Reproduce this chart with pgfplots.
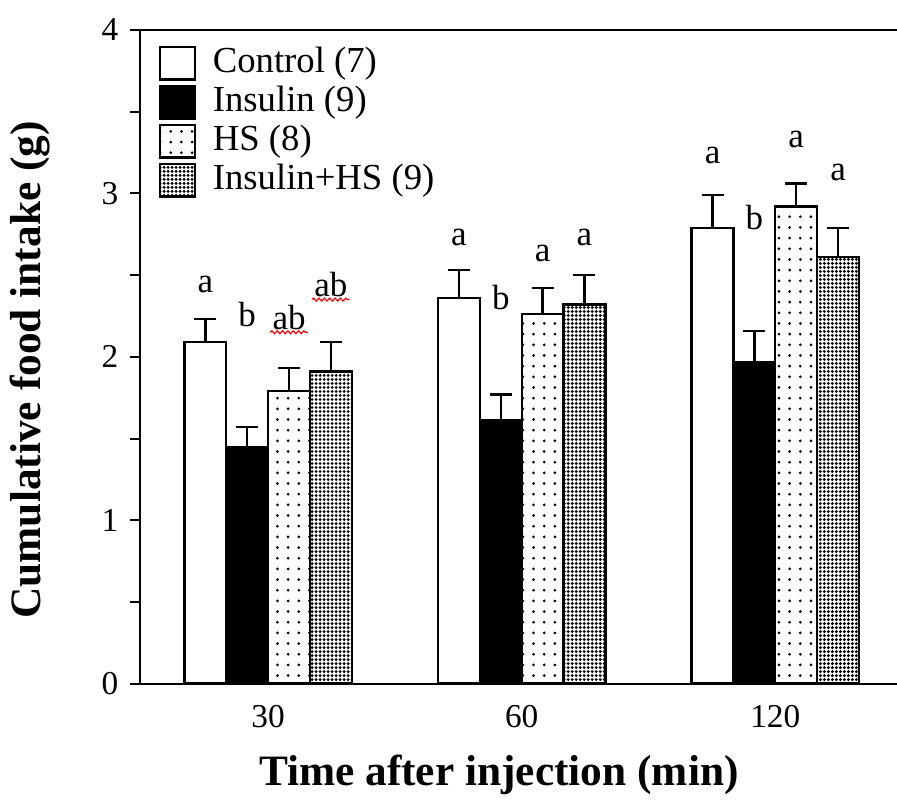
\documentclass[border=0pt]{standalone}
\usepackage{fontspec}
\setmainfont{Liberation Serif}
\usepackage{pgfplots}
\usepackage{pgfplotstable}
\pgfplotsset{compat=1.18}
\usetikzlibrary{patterns.meta, decorations.pathmorphing}

% cumulative food intake (g) at 30, 60, 120 min, mean and upper SEM
\pgfplotstableread{
x ctrl ctrlerr ins inserr hs hserr ihs ihserr
0 2.09 0.14 1.45 0.12 1.79 0.14 1.91 0.18
1 2.36 0.17 1.61 0.16 2.26 0.16 2.32 0.18
2 2.79 0.20 1.97 0.19 2.92 0.14 2.61 0.18
}\foodtable

\tikzset{
  barline/.style={draw=black, line width=0.7pt},
  hsfill/.style={pattern={Dots[distance=3.2pt, radius=0.45pt]}, pattern color=black},
  ihsfill/.style={pattern={Dots[distance=1.2pt, radius=0.48pt]}, pattern color=black},
}

\begin{document}
\begin{tikzpicture}
  \begin{axis}[
      scale only axis,
      width=227pt, height=196pt,
      xmin=-0.505, xmax=2.48,
      ymin=0, ymax=4,
      axis x line=box, axis y line=left,
      axis line style={-, line width=0.6pt},
      xtick={0,1,2}, xticklabels={30,60,120},
      major x tick style={draw=none},
      ytick={0,1,2,3,4},
      minor ytick={0.5,1.5,2.5,3.5},
      ytick pos=left,
      tick align=outside,
      major tick length=3pt, minor tick length=3pt,
      every tick/.style={black, line width=0.6pt},
      /pgf/number format/assume math mode=true,
      tick label style={font=\fontsize{10}{12}\selectfont},
      xlabel={\textbf{Time after injection (min)}},
      ylabel={\textbf{Cumulative food intake (g)}},
      label style={font=\fontsize{13}{15}\selectfont},
      xlabel style={at={(axis description cs:0.474,-0.139)}, anchor=center},
      ylabel style={at={(axis description cs:-0.145,0.48)}, anchor=center},
      ybar, bar width=0.165,
      error bars/y dir=plus, error bars/y explicit,
      error bars/error mark=-,
      error bars/error mark options={black, line width=0.7pt, mark size=3.3pt, rotate=90},
      error bars/error bar style={black, line width=0.7pt},
      legend style={at={(axis description cs:0.024,0.977)}, anchor=north west,
        draw=none, fill=none, inner sep=0pt, font=\fontsize{11}{12}\selectfont,
        row sep=1.2pt, column sep=5pt,
        nodes={inner sep=0pt, text height=7.6pt, text depth=2.3pt}},
      legend cell align=left,
      legend image code/.code={\draw[#1, line width=0.7pt] (0pt,-4.9pt) rectangle (10.5pt,4.9pt);},
    ]
    \addplot[barline, fill=white, bar shift=-0.2475]
      table[x=x, y=ctrl, y error=ctrlerr] {\foodtable};
    \addplot[barline, fill=black, bar shift=-0.0825]
      table[x=x, y=ins, y error=inserr] {\foodtable};
    \addplot[barline, hsfill, bar shift=0.0825]
      table[x=x, y=hs, y error=hserr] {\foodtable};
    \addplot[barline, ihsfill, bar shift=0.2475]
      table[x=x, y=ihs, y error=ihserr] {\foodtable};
    \legend{Control (7), Insulin (9), HS (8), Insulin+HS (9)}

    % significance letters
    \begin{scope}[every node/.style={font=\fontsize{10.5}{12}\selectfont, inner sep=0.5pt}]
      \node at (axis cs:-0.2475,2.44) {a};
      \node at (axis cs:-0.0825,2.26) {b};
      \node (ab1) at (axis cs:0.0825,2.24) {ab};
      \node (ab2) at (axis cs:0.2475,2.44) {ab};
      \node at (axis cs:0.7525,2.73) {a};
      \node at (axis cs:0.9175,2.36) {b};
      \node at (axis cs:1.0825,2.63) {a};
      \node at (axis cs:1.2475,2.73) {a};
      \node at (axis cs:1.7525,3.23) {a};
      \node at (axis cs:1.9175,2.85) {b};
      \node at (axis cs:2.0825,3.33) {a};
      \node at (axis cs:2.2475,3.13) {a};
    \end{scope}
    \draw[red, line width=0.35pt, decorate, decoration={snake, amplitude=0.45pt, segment length=1.6pt}]
      (ab1.south west) -- (ab1.south east);
    \draw[red, line width=0.35pt, decorate, decoration={snake, amplitude=0.45pt, segment length=1.6pt}]
      (ab2.south west) -- (ab2.south east);

    \coordinate (bl) at (rel axis cs:0,0);
    \coordinate (tr) at (rel axis cs:1,1);
  \end{axis}
  \pgfresetboundingbox
  \path[use as bounding box] ([shift={(-42pt,-36pt)}]bl) rectangle ([shift={(0pt,9pt)}]tr);
\end{tikzpicture}
\end{document}
